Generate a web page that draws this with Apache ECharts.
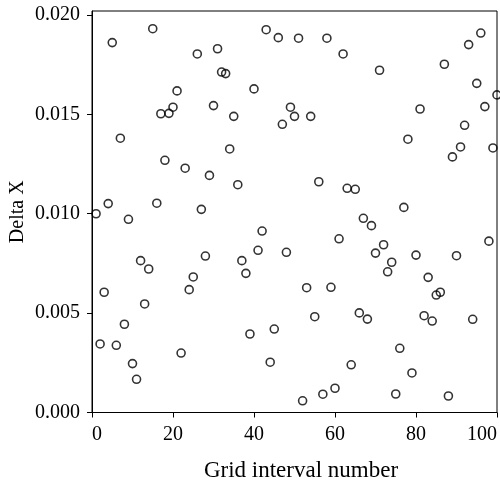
<!DOCTYPE html>
<html>
<head>
<meta charset="utf-8">
<script src="https://cdn.jsdelivr.net/npm/echarts@6/dist/echarts.min.js"></script>
<style>
html,body{margin:0;padding:0;background:#fff;}
#chart{width:500px;height:482px;}
</style>
</head>
<body>
<div id="chart"></div>
<script>
var gridIntervals = [1,2,3,4,5,6,7,8,9,10,11,12,13,14,15,16,17,18,19,20,
  21,22,23,24,25,26,27,28,29,30,31,32,33,34,35,36,37,38,39,40,
  41,42,43,44,45,46,47,48,49,50,51,52,53,54,55,56,57,58,59,60,
  61,62,63,64,65,66,67,68,69,70,71,72,73,74,75,76,77,78,79,80,
  81,82,83,84,85,86,87,88,89,90,91,92,93,94,95,96,97,98,99,100];
var deltaX = [0.0100,0.00345,0.00605,0.01051,0.01861,0.00338,0.01380,0.00444,0.00972,0.00246,
  0.00167,0.00764,0.00546,0.00722,0.01931,0.01053,0.01503,0.01269,0.01505,0.01536,
  0.01618,0.00299,0.01229,0.00618,0.00682,0.01804,0.01022,0.00787,0.01193,0.01544,
  0.01830,0.01713,0.01705,0.01326,0.01490,0.01146,0.00764,0.00700,0.00395,0.01628,
  0.00816,0.00913,0.01926,0.00253,0.00420,0.01886,0.01450,0.00806,0.01536,0.01490,
  0.01883,0.00059,0.00628,0.01490,0.00482,0.01161,0.00092,0.01883,0.00630,0.00122,
  0.00874,0.01804,0.01128,0.00240,0.01123,0.00501,0.00977,0.00470,0.00940,0.00802,
  0.01722,0.00844,0.00708,0.00756,0.00093,0.00323,0.01032,0.01375,0.00199,0.00792,
  0.01527,0.00487,0.00680,0.00460,0.00591,0.00605,0.01752,0.00083,0.01286,0.00789,
  0.01336,0.01445,0.01851,0.00469,0.01656,0.01909,0.01539,0.00862,0.01331,0.01598];
var xTicks = [0,20,40,60,80,100];
var yTicks = [0.000,0.005,0.010,0.015,0.020];

var points = gridIntervals.map(function(x,i){return [x, deltaX[i]];});
var font = 'Liberation Serif';
var chart = echarts.init(document.getElementById('chart'), null, {renderer:'canvas'});
chart.setOption({
  animation:false,
  backgroundColor:'#fff',
  grid:{left:92, right:3, top:11, bottom:69.5, containLabel:false, outerBoundsMode:'none',
    show:true, borderColor:'#000', borderWidth:1, backgroundColor:'transparent'},
  xAxis:{
    type:'value', min:0, max:100, interval:20,
    name:'Grid interval number', nameLocation:'middle', nameGap:47, nameMoveOverlap:false,
    nameTextStyle:{fontFamily:font, fontSize:23, color:'#000', padding:[0,0,0,13]},
    axisLine:{show:true, onZero:false, lineStyle:{color:'#000', width:1}},
    axisTick:{show:true, inside:false, length:5, lineStyle:{color:'#000'}},
    axisLabel:{fontFamily:font, fontSize:20, color:'#000', margin:12,
      alignMinLabel:'left', alignMaxLabel:'right',
      formatter:function(v){return xTicks.indexOf(v)>=0 ? String(v) : '';}},
    splitLine:{show:false}
  },
  yAxis:{
    type:'value', min:0, max:0.0202, interval:0.005,
    name:'Delta X', nameLocation:'middle', nameGap:64, nameRotate:90, nameMoveOverlap:false,
    nameTextStyle:{fontFamily:font, fontSize:20, color:'#000'},
    axisLine:{show:true, onZero:false, lineStyle:{color:'#000', width:1}},
    axisTick:{show:true, inside:false, length:5, lineStyle:{color:'#000'}},
    axisLabel:{fontFamily:font, fontSize:20, color:'#000', margin:12, showMaxLabel:false,
      formatter:function(v){
        for (var i=0;i<yTicks.length;i++){ if (Math.abs(v-yTicks[i])<1e-9) return yTicks[i].toFixed(3); }
        return '';
      }},
    splitLine:{show:false}
  },
  series:[{
    type:'scatter',
    data:points,
    symbol:'circle',
    symbolSize:8,
    itemStyle:{color:'rgba(0,0,0,0)', borderColor:'#000', borderWidth:1.6}
  }]
});
</script>
</body>
</html>
